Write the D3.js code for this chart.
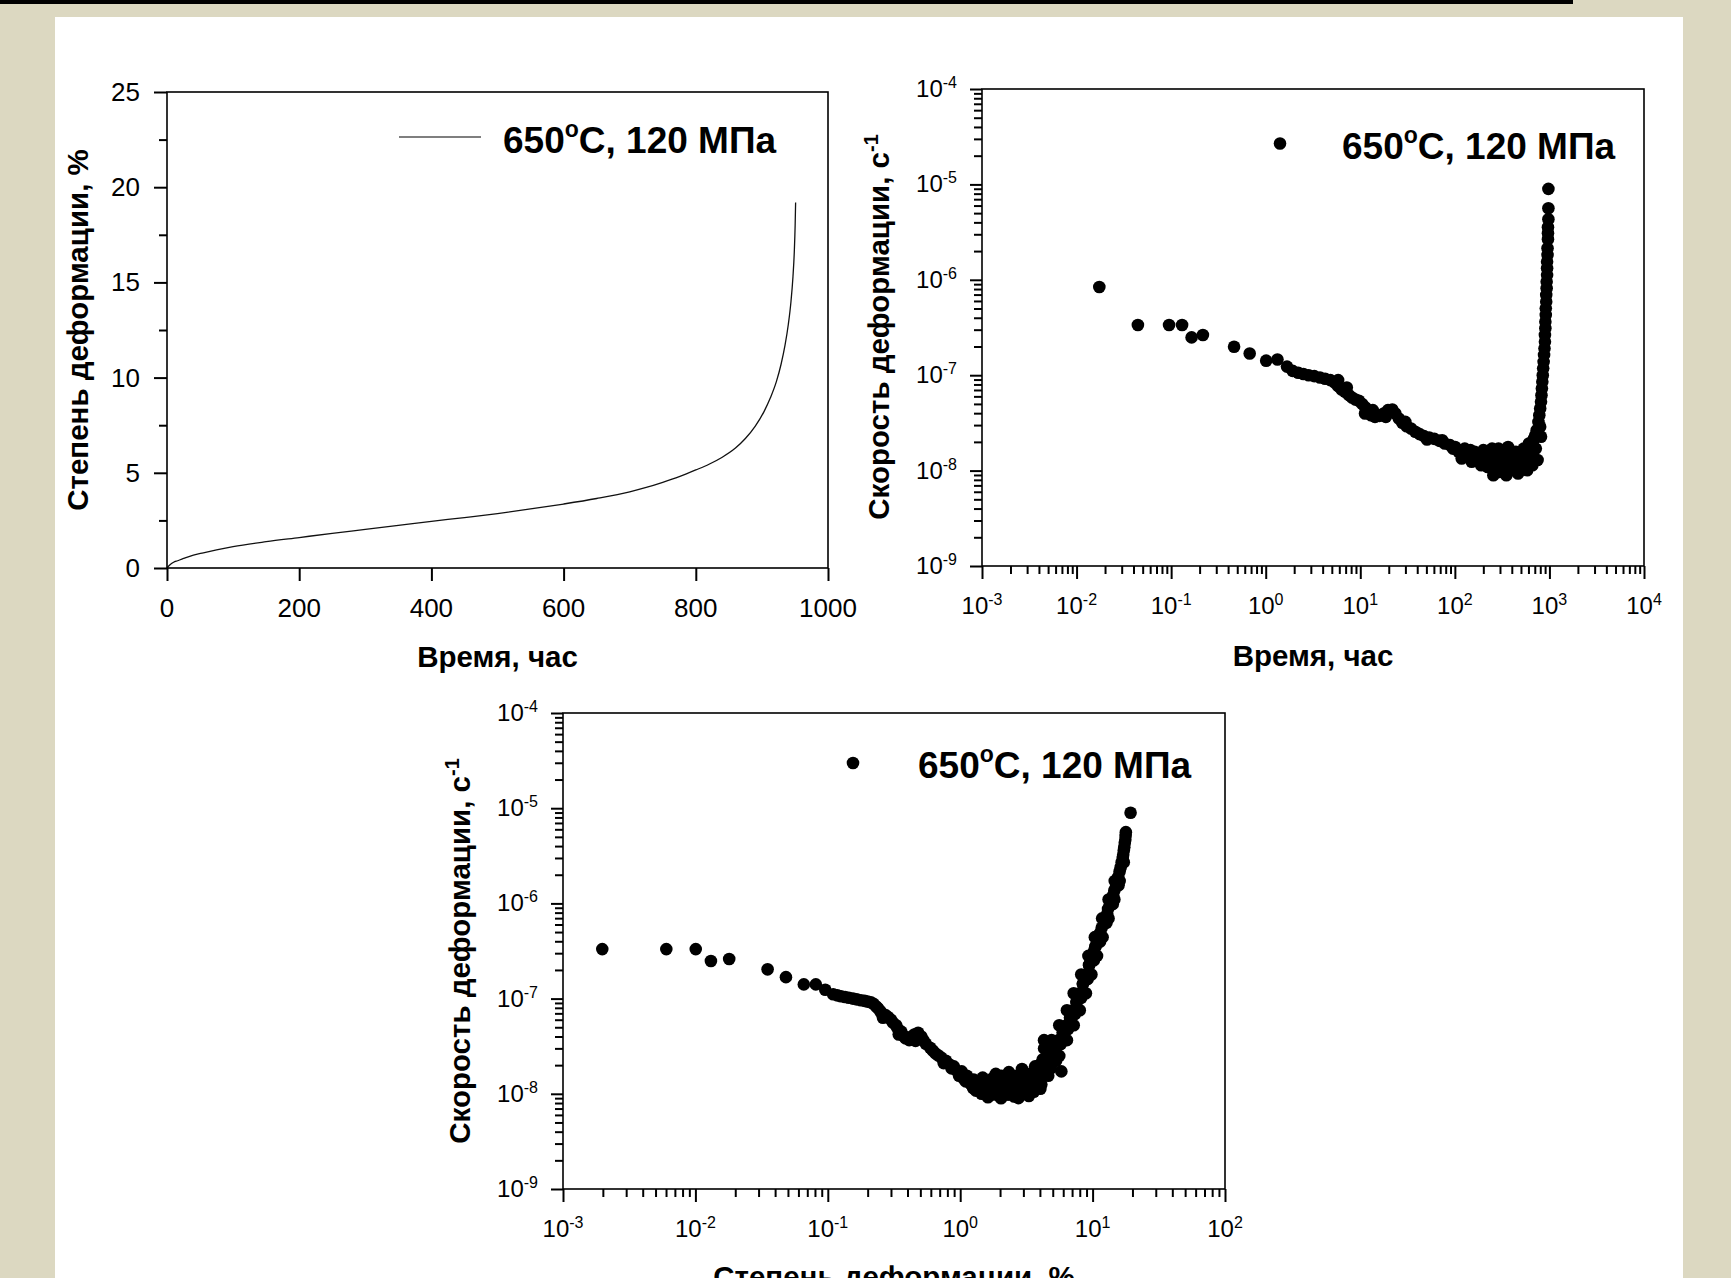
<!DOCTYPE html>
<html>
<head>
<meta charset="utf-8">
<script src="https://cdn.jsdelivr.net/npm/d3@7"></script>
<style>
  html, body { margin: 0; padding: 0; background: #dcd8c1; }
  svg { display: block; }
  text { font-family: "Liberation Sans", Arial, Helvetica, sans-serif; fill: #000; }
</style>
</head>
<body>
<svg id="chart" width="1731" height="1278"></svg>
<script>
// ---------- data ----------
const seriesLabel = "650";
const seriesLabelTail = "C, 120 МПа";

// creep curve: time (h) vs strain (%)
const creepHours  = [0, 5, 10, 16, 25, 40, 55, 75, 100, 150, 200, 250, 300, 350, 400, 450, 500, 550, 600, 650, 700, 725, 750, 775, 800, 820, 840, 860, 875, 890, 903, 913, 922, 929, 935, 940, 944, 947, 949, 950.3, 951];
const creepStrain = [0, 0.18, 0.3, 0.38, 0.5, 0.68, 0.8, 0.95, 1.12, 1.38, 1.6, 1.82, 2.03, 2.24, 2.45, 2.65, 2.86, 3.1, 3.36, 3.65, 4.0, 4.23, 4.5, 4.8, 5.15, 5.45, 5.82, 6.3, 6.8, 7.45, 8.2, 8.95, 9.8, 10.7, 11.7, 12.8, 14.0, 15.3, 16.6, 18.0, 19.2];

// strain rate (1/s) against time (h)
const rateHours = [
  0.0174, 0.0445, 0.0951, 0.1305, 0.1646, 0.2166, 0.463, 0.677, 1.011, 1.331, 1.679,
  1.925, 2.209, 2.506, 2.845, 3.264, 3.744, 4.249, 4.823, 5.361, 5.833, 5.833, 6.346, 6.907, 7.20, 7.593,
  8.175, 8.897, 9.68, 10.53, 11.22, 11.34, 12.21, 13.01, 13.57, 14.31, 15.90, 17.67, 18.63, 19.63, 21.82,
  23.49, 25.56, 27.82, 29.95, 30.92, 34.36, 38.17, 42.42, 47.15, 50.76, 53.52, 60.74, 68.95, 73.45, 78.26,
  88.8, 95.6, 100.8,
  109.7, 118.1, 127.2, 138.4, 145.9, 150.6, 162.1, 174.6, 180.1, 190.0, 200.2, 211.1, 222.5, 229.7, 234.6,
  247.4, 255.3, 266.3, 274.8, 283.6, 289.6, 295.9, 308.6, 321.9, 321.9, 339.4, 350.3, 365.4, 377.2, 381.2,
  397.6, 419.3, 442.0, 442.0, 465.9, 480.8, 491.1, 507.0, 517.6, 534.4, 557.4, 581.5, 606.6, 619.4, 639.4,
  660.0, 674.0, 688.5, 710.5, 718.2, 749.2,
  733.5, 765.3, 781.5, 798.2, 798.2, 815.1, 815.1, 823.8, 832.5, 841.4, 850.4, 859.0, 868.2, 877.5, 886.8,
  896.3, 896.3, 905.7, 905.7, 915.3, 915.3, 925.0, 925.0, 934.8, 934.8, 944.7, 944.7, 944.7, 954.7, 954.7,
  964.9, 964.9, 964.9, 975.2, 975.2, 975.2
];
const rateByTime = [
  8.40e-7, 3.36e-7, 3.36e-7, 3.36e-7, 2.49e-7, 2.64e-7, 1.99e-7, 1.69e-7, 1.42e-7, 1.46e-7, 1.23e-7,
  1.11e-7, 1.06e-7, 1.03e-7, 1.00e-7, 9.78e-8, 9.47e-8, 9.18e-8, 8.88e-8, 8.40e-8, 7.68e-8, 8.88e-8, 7.09e-8, 6.70e-8, 7.44e-8, 6.18e-8,
  5.84e-8, 5.57e-8, 5.39e-8, 4.97e-8, 3.97e-8, 4.59e-8, 4.13e-8, 3.81e-8, 4.30e-8, 3.66e-8, 3.75e-8, 3.97e-8, 3.66e-8, 4.30e-8, 4.37e-8,
  3.97e-8, 3.52e-8, 3.17e-8, 3.24e-8, 2.92e-8, 2.76e-8, 2.55e-8, 2.41e-8, 2.30e-8, 2.12e-8, 2.22e-8, 2.15e-8, 2.05e-8, 2.08e-8, 1.92e-8,
  1.85e-8, 1.70e-8, 1.77e-8,
  1.57e-8, 1.34e-8, 1.70e-8, 1.45e-8, 1.64e-8, 1.24e-8, 1.57e-8, 1.34e-8, 1.24e-8, 1.14e-8, 1.64e-8, 1.39e-8, 1.09e-8, 1.45e-8, 1.24e-8,
  1.70e-8, 8.95e-9, 1.05e-8, 1.19e-8, 1.45e-8, 1.70e-8, 9.70e-9, 1.24e-8, 1.64e-8, 1.29e-8, 1.09e-8, 8.95e-9, 1.77e-8, 1.14e-8, 1.39e-8,
  1.01e-8, 1.19e-8, 1.57e-8, 1.01e-8, 9.31e-9, 1.34e-8, 1.19e-8, 1.09e-8, 1.45e-8, 1.70e-8, 1.29e-8, 1.01e-8, 1.92e-8, 1.64e-8, 1.51e-8,
  1.14e-8, 2.08e-8, 2.17e-8, 2.35e-8, 1.70e-8, 1.29e-8,
  2.65e-8, 3.24e-8, 3.81e-8, 2.88e-8, 4.48e-8, 2.26e-8, 5.26e-8, 6.18e-8, 7.26e-8, 8.53e-8, 1.00e-7, 1.18e-7, 1.38e-7, 1.63e-7, 1.91e-7,
  2.24e-7, 2.64e-7, 3.10e-7, 3.64e-7, 4.27e-7, 5.02e-7, 5.90e-7, 6.93e-7, 8.14e-7, 9.56e-7, 1.12e-6, 1.32e-6, 1.55e-6, 1.82e-6, 2.14e-6,
  2.66e-6, 3.07e-6, 3.55e-6, 4.31e-6, 5.62e-6, 8.97e-6
];

// strain rate (1/s) against strain (%)
const rateStrain = [
  // primary stage
  0.00198, 0.00603, 0.01006, 0.0131, 0.0180, 0.0351, 0.0483, 0.0659, 0.0812,
  0.0957, 0.1098, 0.118, 0.1259, 0.135, 0.1443, 0.155, 0.1655, 0.178, 0.1897, 0.200, 0.2117, 0.222,
  0.2319, 0.240, 0.2495, 0.255, 0.2611, 0.2733, 0.285, 0.2995, 0.310, 0.3281, 0.335, 0.3434, 0.3593,
  0.370, 0.3866, 0.400, 0.4120, 0.4312, 0.450, 0.460, 0.4813, 0.5084, 0.5272, 0.550, 0.5935, 0.620,
  0.6501, 0.6804, 0.720, 0.750, 0.7804, 0.8318, 0.860, 0.8948, 0.940, 0.980, 1.026, 1.060, 1.100, 1.124,
  // minimum-rate cluster
  1.198, 1.250, 1.266, 1.313, 1.350, 1.387, 1.450, 1.478, 1.550, 1.575, 1.620, 1.664, 1.694, 1.750,
  1.774, 1.800, 1.857, 1.900, 1.943, 1.950, 2.034, 2.050, 2.100, 2.129, 2.188, 2.228, 2.300, 2.332,
  2.350, 2.441, 2.500, 2.555, 2.600, 2.674, 2.674, 2.750, 2.799, 2.850, 2.930, 3.000, 3.066, 3.151,
  3.200, 3.300, 3.359, 3.452, 3.500, 3.600, 3.680, 3.782, 3.900, 3.950, 4.032, 4.100, 4.200, 4.220,
  4.298, 4.416, 4.500, 4.623, 4.839, 5.301, 5.807,
  // tertiary rise
  4.839, 5.157, 5.548, 5.754, 5.968, 6.361, 6.537, 6.782, 7.161, 7.360, 7.564, 7.990, 8.211, 8.441, 8.916,
  9.162, 9.417, 9.947, 10.22, 10.50, 11.10, 11.40, 11.72, 12.38, 12.72, 13.08, 13.81, 14.20, 14.59, 15.27,
  15.70, 15.99, 16.58, 17.03, 17.35, 17.67, 17.83, 19.36,
  5.60, 6.40, 7.20, 8.00, 8.90, 9.80, 10.8, 11.9, 13.2, 14.6, 16.0, 17.2,
  4.30, 4.90, 5.60, 6.40, 7.20, 8.20, 9.30, 10.4, 11.8, 13.2, 14.7,
  5.20, 5.95, 6.75, 7.55, 8.45, 9.40, 10.5,
  10.2, 10.9, 11.4, 12.9, 13.5, 14.3, 15.0, 15.6, 16.3, 16.9, 17.2, 17.5, 17.75
];
const rateByStrain = [
  3.31e-7, 3.31e-7, 3.31e-7, 2.48e-7, 2.61e-7, 2.03e-7, 1.68e-7, 1.41e-7, 1.41e-7,
  1.24e-7, 1.11e-7, 1.08e-7, 1.06e-7, 1.04e-7, 1.02e-7, 1.00e-7, 9.82e-8, 9.60e-8, 9.47e-8, 9.30e-8, 9.13e-8, 8.80e-8,
  8.27e-8, 7.90e-8, 7.35e-8, 7.00e-8, 6.30e-8, 6.71e-8, 6.40e-8, 6.02e-8, 5.60e-8, 5.25e-8, 4.90e-8, 4.19e-8, 4.50e-8,
  4.10e-8, 3.83e-8, 3.90e-8, 3.66e-8, 4.00e-8, 4.20e-8, 3.60e-8, 4.38e-8, 4.00e-8, 3.66e-8, 3.35e-8, 3.05e-8, 2.85e-8,
  2.66e-8, 2.54e-8, 2.40e-8, 2.10e-8, 2.22e-8, 2.03e-8, 1.85e-8, 1.94e-8, 1.75e-8, 1.55e-8, 1.72e-8, 1.45e-8, 1.35e-8, 1.55e-8,
  1.27e-8, 1.15e-8, 1.41e-8, 1.08e-8, 1.32e-8, 1.23e-8, 1.00e-8, 1.48e-8, 1.25e-8, 1.10e-8, 9.20e-9, 1.18e-8, 1.35e-8, 1.45e-8,
  9.82e-9, 1.10e-8, 1.62e-8, 1.30e-8, 1.18e-8, 9.60e-9, 8.97e-9, 1.55e-8, 1.15e-8, 1.41e-8, 1.23e-8, 1.06e-8, 9.80e-9, 1.69e-8,
  1.40e-8, 1.27e-8, 1.10e-8, 9.38e-9, 1.30e-8, 1.55e-8, 1.03e-8, 9.00e-9, 1.13e-8, 1.45e-8, 1.82e-8, 1.10e-8, 1.35e-8, 1.00e-8,
  1.25e-8, 9.50e-9, 1.62e-8, 1.18e-8, 1.40e-8, 1.05e-8, 1.94e-8, 1.41e-8, 1.60e-8, 2.00e-8, 1.13e-8, 1.25e-8, 2.30e-8, 1.69e-8,
  3.66e-8, 2.12e-8, 1.90e-8, 1.55e-8, 1.85e-8, 2.22e-8, 1.72e-8,
  2.54e-8, 3.05e-8, 3.66e-8, 3.34e-8, 4.38e-8, 5.25e-8, 4.80e-8, 6.30e-8, 7.55e-8, 6.90e-8, 9.05e-8, 1.14e-7, 1.02e-7, 1.42e-7, 1.79e-7,
  1.60e-7, 2.24e-7, 2.81e-7, 2.52e-7, 3.52e-7, 4.42e-7, 3.97e-7, 5.55e-7, 6.96e-7, 6.24e-7, 8.73e-7, 1.10e-6, 9.82e-7, 1.37e-6, 1.72e-6,
  1.55e-6, 2.16e-6, 2.71e-6, 3.25e-6, 3.90e-6, 4.67e-6, 5.60e-6, 8.97e-6,
  2.50e-8, 3.66e-8, 5.25e-8, 7.55e-8, 1.14e-7, 1.79e-7, 2.81e-7, 4.42e-7, 6.96e-7, 1.10e-6, 1.72e-6, 2.71e-6,
  3.00e-8, 3.66e-8, 5.25e-8, 7.55e-8, 1.14e-7, 1.79e-7, 2.81e-7, 4.42e-7, 6.96e-7, 1.10e-6, 1.72e-6,
  3.10e-8, 4.40e-8, 6.30e-8, 9.30e-8, 1.43e-7, 2.25e-7, 3.50e-7,
  3.10e-7, 3.90e-7, 4.90e-7, 7.80e-7, 9.60e-7, 1.22e-6, 1.50e-6, 1.90e-6, 2.40e-6, 3.00e-6, 3.60e-6, 4.30e-6, 5.10e-6
];

// axis ticks
const hourTicks   = [0, 200, 400, 600, 800, 1000];
const strainTicks = [0, 5, 10, 15, 20, 25];
const strainMinor = [2.5, 7.5, 12.5, 17.5, 22.5];
const hourDecades   = [-3, -2, -1, 0, 1, 2, 3, 4];
const strainDecades = [-3, -2, -1, 0, 1, 2];
const rateDecades   = [-9, -8, -7, -6, -5, -4];

// ---------- page ----------
const svg = d3.select("#chart");
svg.append("rect").attr("width", 1731).attr("height", 1278).attr("fill", "#dcd8c1");
svg.append("rect").attr("x", 0).attr("y", 0).attr("width", 1573).attr("height", 4).attr("fill", "#000");
svg.append("rect").attr("x", 55).attr("y", 17).attr("width", 1628).attr("height", 1261).attr("fill", "#fff");

// ---------- helpers ----------
function tickRow(g, axisFn, scale, values, size, transform) {
  g.append("g").attr("transform", transform)
    .call(axisFn(scale).tickValues(values).tickSize(size).tickSizeOuter(0).tickFormat(""))
    .call(a => a.select(".domain").remove())
    .call(a => a.selectAll("line").attr("stroke", "#000").attr("stroke-width", 2));
}

function minorLog(decades) {
  const out = [];
  for (let i = 0; i < decades.length - 1; i++) {
    for (let k = 2; k <= 9; k++) out.push(k * Math.pow(10, decades[i]));
  }
  return out;
}

function powerLabel(g, x, y, exp, anchor) {
  const t = g.append("text").attr("x", x).attr("y", y).attr("text-anchor", anchor)
    .style("font-size", "24px");
  t.append("tspan").text("10");
  t.append("tspan").attr("dy", -9).style("font-size", "16px").text(exp);
}

function frame(g, box) {
  g.append("rect").attr("x", box.l).attr("y", box.t)
    .attr("width", box.r - box.l).attr("height", box.b - box.t)
    .attr("fill", "none").attr("stroke", "#000").attr("stroke-width", 1.6);
}

function legendText(g, x, y) {
  const t = g.append("text").attr("x", x).attr("y", y)
    .style("font-size", "37px").style("font-weight", "bold");
  t.append("tspan").text(seriesLabel);
  t.append("tspan").attr("dy", -16).style("font-size", "23px").text("o");
  t.append("tspan").attr("dy", 16).text(seriesLabelTail);
}

function yTitle(g, x, y, text, sup) {
  const t = g.append("text").attr("transform", `translate(${x},${y}) rotate(-90)`)
    .attr("text-anchor", "middle").style("font-size", "29.5px").style("font-weight", "bold");
  t.append("tspan").text(text);
  if (sup) t.append("tspan").attr("dy", -11).style("font-size", "20px").text(sup);
}

function xTitle(g, x, y, text) {
  g.append("text").attr("x", x).attr("y", y).attr("text-anchor", "middle")
    .style("font-size", "29.5px").style("font-weight", "bold").text(text);
}

// ---------- panel A: creep curve ----------
(function () {
  const box = { l: 167, r: 828, t: 92, b: 568 };
  const g = svg.append("g");
  const x = d3.scaleLinear().domain([0, 1000]).range([box.l, box.r]);
  const y = d3.scaleLinear().domain([0, 25]).range([box.b, box.t]);

  tickRow(g, d3.axisBottom, x, hourTicks, 13, `translate(0,${box.b})`);
  tickRow(g, d3.axisLeft, y, strainTicks, 13, `translate(${box.l},0)`);
  tickRow(g, d3.axisLeft, y, strainMinor, 8, `translate(${box.l},0)`);

  hourTicks.forEach(v => g.append("text").attr("x", x(v)).attr("y", box.b + 49)
    .attr("text-anchor", "middle").style("font-size", "26px").text(v));
  strainTicks.forEach(v => g.append("text").attr("x", box.l - 27).attr("y", y(v) + 9)
    .attr("text-anchor", "end").style("font-size", "26px").text(v));

  const pts = creepHours.map((t, i) => ({ t, e: creepStrain[i] }));
  g.append("path").datum(pts)
    .attr("d", d3.line().x(d => x(d.t)).y(d => y(d.e)).curve(d3.curveMonotoneX))
    .attr("fill", "none").attr("stroke", "#111").attr("stroke-width", 1.3);

  frame(g, box);

  g.append("line").attr("x1", 399).attr("x2", 481).attr("y1", 137).attr("y2", 137)
    .attr("stroke", "#555").attr("stroke-width", 1.3);
  legendText(g, 503, 153);

  yTitle(g, 88, 330, "Степень деформации, %");
  xTitle(g, (box.l + box.r) / 2, 667, "Время, час");
})();

// ---------- log-log scatter panels ----------
function scatterPanel(box, xDecades, xs, ys, legendPos, yTitlePos, xTitlePos, xTitleText) {
  const g = svg.append("g");
  const x = d3.scaleLog().domain([Math.pow(10, xDecades[0]), Math.pow(10, xDecades[xDecades.length - 1])]).range([box.l, box.r]);
  const y = d3.scaleLog().domain([1e-9, 1e-4]).range([box.b, box.t]);

  const xMaj = xDecades.map(d => Math.pow(10, d));
  const yMaj = rateDecades.map(d => Math.pow(10, d));
  tickRow(g, d3.axisBottom, x, xMaj, 13, `translate(0,${box.b})`);
  tickRow(g, d3.axisBottom, x, minorLog(xDecades), 8, `translate(0,${box.b})`);
  tickRow(g, d3.axisLeft, y, yMaj, 12, `translate(${box.l},0)`);
  tickRow(g, d3.axisLeft, y, minorLog(rateDecades), 8, `translate(${box.l},0)`);

  xDecades.forEach(d => powerLabel(g, x(Math.pow(10, d)), box.b + 48, String(d), "middle"));
  rateDecades.forEach(d => powerLabel(g, box.l - 25, y(Math.pow(10, d)) + 8, String(d), "end"));

  g.append("g").selectAll("circle")
    .data(xs.map((v, i) => ({ v, r: ys[i] })))
    .join("circle")
    .attr("cx", d => x(d.v)).attr("cy", d => y(d.r)).attr("r", 6.3).attr("fill", "#000");

  frame(g, box);

  g.append("circle").attr("cx", legendPos[0]).attr("cy", legendPos[1]).attr("r", 6.3).attr("fill", "#000");
  legendText(g, legendPos[2], legendPos[3]);

  yTitle(g, yTitlePos[0], yTitlePos[1], "Скорость деформации, с", "-1");
  xTitle(g, xTitlePos[0], xTitlePos[1], xTitleText);
}

scatterPanel({ l: 982, r: 1644, t: 89, b: 566 }, hourDecades, rateHours, rateByTime,
  [1280, 143.5, 1342, 159], [889, 327], [1313, 666], "Время, час");

scatterPanel({ l: 563, r: 1225, t: 713, b: 1189 }, strainDecades, rateStrain, rateByStrain,
  [853, 763, 918, 778], [470, 951], [894, 1287], "Степень деформации, %");
</script>
</body>
</html>
